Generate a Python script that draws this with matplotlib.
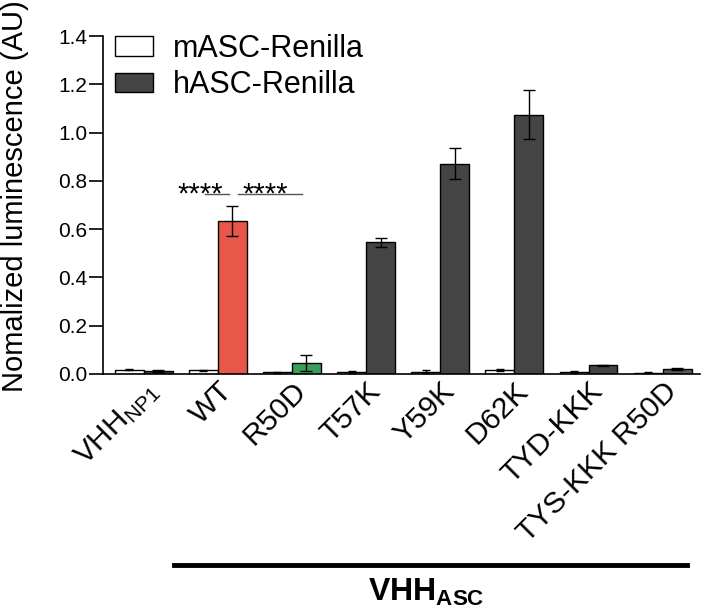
import numpy as np
import matplotlib
matplotlib.use("Agg")
import matplotlib.pyplot as plt

plt.rcParams['font.family'] = ['Liberation Sans', 'DejaVu Sans']
plt.rcParams['mathtext.fontset'] = 'custom'
plt.rcParams['mathtext.rm'] = 'Liberation Sans'
plt.rcParams['mathtext.it'] = 'Liberation Sans:italic'
plt.rcParams['mathtext.bf'] = 'Liberation Sans:bold'

# data
groups = [r'VHH$_{\mathrm{NP1}}$', 'WT', 'R50D', 'T57K', 'Y59K', 'D62K', 'TYD-KKK', 'TYS-KKK R50D']
masc = [0.018, 0.015, 0.006, 0.009, 0.009, 0.018, 0.008, 0.005]
masc_err = [0.003, 0.003, 0.002, 0.004, 0.006, 0.004, 0.004, 0.003]
hasc = [0.012, 0.635, 0.045, 0.545, 0.872, 1.075, 0.035, 0.020]
hasc_err = [0.004, 0.062, 0.032, 0.018, 0.065, 0.100, 0.004, 0.003]
hasc_colors = ['#444444', '#e8584a', '#3a9e5a', '#444444', '#444444', '#444444', '#444444', '#585858']

x = np.arange(len(groups))
w = 0.39

fig = plt.figure(figsize=(7.09, 6.14), dpi=100)
ax = fig.add_axes([0.145, 0.391, 0.842, 0.55])

ax.bar(x - w / 2, masc, w, color='white', edgecolor='black', linewidth=1.0,
       yerr=masc_err, error_kw=dict(ecolor='black', elinewidth=1.0, capsize=3, capthick=1.0),
       label='mASC-Renilla')
ax.bar(x + w / 2, hasc, w, color=hasc_colors, edgecolor='black', linewidth=1.0,
       yerr=hasc_err, error_kw=dict(ecolor='black', elinewidth=1.0, capsize=4, capthick=1.0))
# legend proxy for dark bars
ax.bar([0], [0], 0, color='#444444', edgecolor='black', label='hASC-Renilla')

ax.set_xlim(-0.55, 7.5)
ax.set_ylim(0, 1.4)
ticks = np.arange(0, 1.41, 0.2)
ax.set_yticks(ticks)
ax.set_yticklabels([f'{v:.1f}' for v in ticks], fontsize=15)
ax.set_xticks(x)
ax.set_xticklabels(groups, rotation=45, ha='right', rotation_mode='anchor', fontsize=21.5)
ax.tick_params(axis='x', length=0, pad=2)
ax.tick_params(axis='y', length=10, width=1.2, direction='out', pad=1)
ax.spines['top'].set_visible(False)
ax.spines['right'].set_visible(False)
ax.spines['left'].set_linewidth(1.2)
ax.spines['bottom'].set_linewidth(1.2)
ax.set_ylabel('Nomalized luminescence (AU)', fontsize=21)
ax.yaxis.set_label_coords(-0.124, 0.527)

leg = ax.legend(loc='upper left', bbox_to_anchor=(12 / 597, 1.008), frameon=False, fontsize=22,
                handlelength=1.24, handleheight=0.62, handletextpad=0.65, labelspacing=0.22,
                borderpad=0, borderaxespad=0)

# significance marks
ax.plot([0.83, 1.15], [0.745, 0.745], color='#555555', lw=1.0)
ax.plot([1.27, 2.14], [0.745, 0.745], color='#555555', lw=1.0)
ax.text(0.76, 0.745, '****', ha='center', va='center', fontsize=21)
ax.text(1.64, 0.745, '****', ha='center', va='center', fontsize=21)

# VHH_ASC group bar
fig.add_artist(plt.Line2D([174 / 709, 687 / 709], [1 - 565 / 614, 1 - 565 / 614],
                          color='black', lw=3.5, transform=fig.transFigure))
fig.text(426 / 709, 1 - 592 / 614, r'$\mathbf{VHH_{ASC}}$', ha='center', va='center', fontsize=23)

fig.savefig('out.png', dpi=100)
